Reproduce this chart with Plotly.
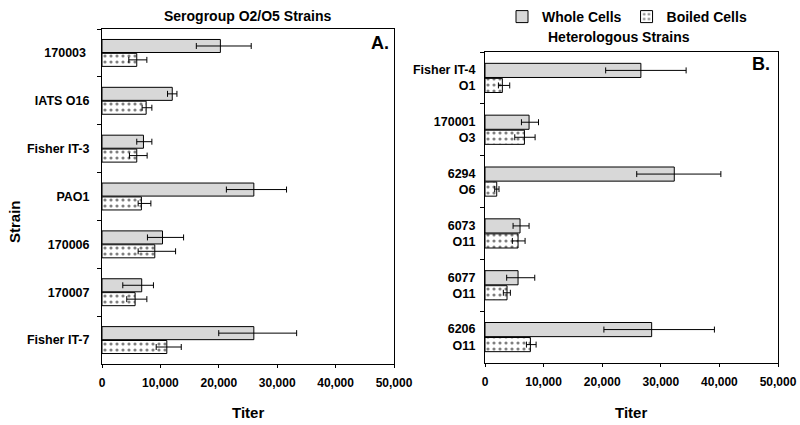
import plotly.graph_objects as go

# ---------- data ----------
strains_a = ["170003\u00a0", "IATS O16", "Fisher IT-3", "PAO1", "170006", "170007", "Fisher IT-7"]
whole_a = [20270, 12030, 7100, 26000, 10360, 6800, 26000]
whole_a_low = [16150, 11220, 5950, 21300, 7780, 3560, 19990]
whole_a_high = [25550, 12830, 8540, 31600, 13970, 8810, 33330]
boiled_a = [5950, 7560, 5950, 6750, 9040, 5670, 11100]
boiled_a_low = [4590, 6870, 4700, 6190, 6190, 4240, 9280]
boiled_a_high = [7680, 8540, 7730, 8370, 12600, 7680, 13570]

strains_b = ["Fisher IT-4<br>O1", "170001<br>O3", "6294<br>O6", "6073<br>O11", "6077<br>O11", "6206<br>O11"]
whole_b = [26600, 7520, 32300, 5980, 5640, 28440]
whole_b_low = [20590, 6220, 25890, 4790, 3700, 20290]
whole_b_high = [34320, 9130, 40250, 7520, 8490, 39150]
boiled_b = [2960, 6730, 2000, 5640, 3760, 7750]
boiled_b_low = [2290, 5080, 1660, 4670, 3130, 7070]
boiled_b_high = [4220, 8550, 2390, 6840, 4330, 8720]

x_ticks = [0, 10000, 20000, 30000, 40000, 50000]

FONT = "Liberation Sans, Arial, sans-serif"
GREY = "#d8d8d8"


def err(vals, lows, highs):
    return dict(type="data", symmetric=False,
                array=[h - v for v, h in zip(vals, highs)],
                arrayminus=[v - l for v, l in zip(vals, lows)],
                color="black", thickness=1, width=3)


fig = go.Figure()

def add_pair(cats, w, wl, wh, b, bl, bh, xa, ya, show):
    fig.add_trace(go.Bar(
        y=cats, x=w, orientation="h", name="Whole Cells", showlegend=show,
        legendgroup="w", xaxis=xa, yaxis=ya,
        marker=dict(color=GREY, line=dict(color="black", width=1)),
        error_x=err(w, wl, wh)))
    fig.add_trace(go.Bar(
        y=cats, x=b, orientation="h", name="Boiled Cells", showlegend=show,
        legendgroup="b", xaxis=xa, yaxis=ya,
        marker=dict(color="white", line=dict(color="black", width=1),
                    pattern=dict(shape=".", fgcolor="black", bgcolor="white",
                                 size=6, solidity=0.22)),
        error_x=err(b, bl, bh)))

add_pair(strains_a, whole_a, whole_a_low, whole_a_high,
         boiled_a, boiled_a_low, boiled_a_high, "x", "y", False)
add_pair(strains_b, whole_b, whole_b_low, whole_b_high,
         boiled_b, boiled_b_low, boiled_b_high, "x2", "y2", True)

W, H = 800, 425
def px(x):
    return x / W
def py(y):
    return 1 - y / H

xfont = dict(family=FONT, size=12, color="black", weight="bold")
yfont = dict(family=FONT, size=12.5, color="black", weight="bold")
xcommon = dict(range=[0, 50000], tickvals=x_ticks, tickformat=",",
               showline=True, linecolor="black", linewidth=1, mirror=True,
               ticks="outside", ticklen=3, tickcolor="black",
               showgrid=False, zeroline=False, automargin=False,
               ticklabelstandoff=5, tickfont=xfont)
ycommon = dict(type="category", autorange="reversed",
               showline=True, linecolor="black", linewidth=1, mirror=True,
               ticks="outside", ticklen=4, tickcolor="black", tickson="boundaries",
               showgrid=False, zeroline=False, automargin=False,
               tickfont=yfont)

fig.update_layout(
    width=W, height=H,
    margin=dict(l=0, r=0, t=0, b=0),
    paper_bgcolor="white", plot_bgcolor="white",
    barmode="group", bargap=0.42, bargroupgap=0.06,
    xaxis=dict(domain=[px(102), px(394)], anchor="y", **xcommon),
    yaxis=dict(domain=[py(364), py(29)], anchor="x", ticklabelstandoff=9, **ycommon),
    xaxis2=dict(domain=[px(485), px(778)], anchor="y2", **xcommon),
    yaxis2=dict(domain=[py(363), py(52)], anchor="x2", ticklabelstandoff=6, **ycommon),
    legend=dict(orientation="h", x=px(627), xanchor="center", y=py(17), yanchor="middle",
                font=dict(family=FONT, size=14, color="black", weight="bold"),
                itemwidth=30, bgcolor="rgba(0,0,0,0)", traceorder="normal"),
    font=dict(family=FONT, color="black"),
)

annos = [
    dict(text="Serogroup O2/O5 Strains", x=px(247), y=py(16), size=14),
    dict(text="Heterologous Strains", x=px(619), y=py(37), size=14),
    dict(text="A.", x=px(380), y=py(43), size=18),
    dict(text="B.", x=px(761), y=py(64), size=18),
    dict(text="Titer", x=px(248), y=py(412), size=15),
    dict(text="Titer", x=px(631), y=py(412), size=15),
]
for a in annos:
    fig.add_annotation(text=a["text"], x=a["x"], y=a["y"], xref="paper", yref="paper",
                       xanchor="center", yanchor="middle", showarrow=False,
                       font=dict(family=FONT, size=a["size"], color="black", weight="bold"))
fig.add_annotation(text="Strain", x=px(14), y=py(222), xref="paper", yref="paper",
                   xanchor="center", yanchor="middle", showarrow=False, textangle=-90,
                   font=dict(family=FONT, size=15, color="black", weight="bold"))

fig.write_html("out.html", config={"displayModeBar": False},
               post_script="document.body.style.margin='0';document.body.style.padding='0';")
